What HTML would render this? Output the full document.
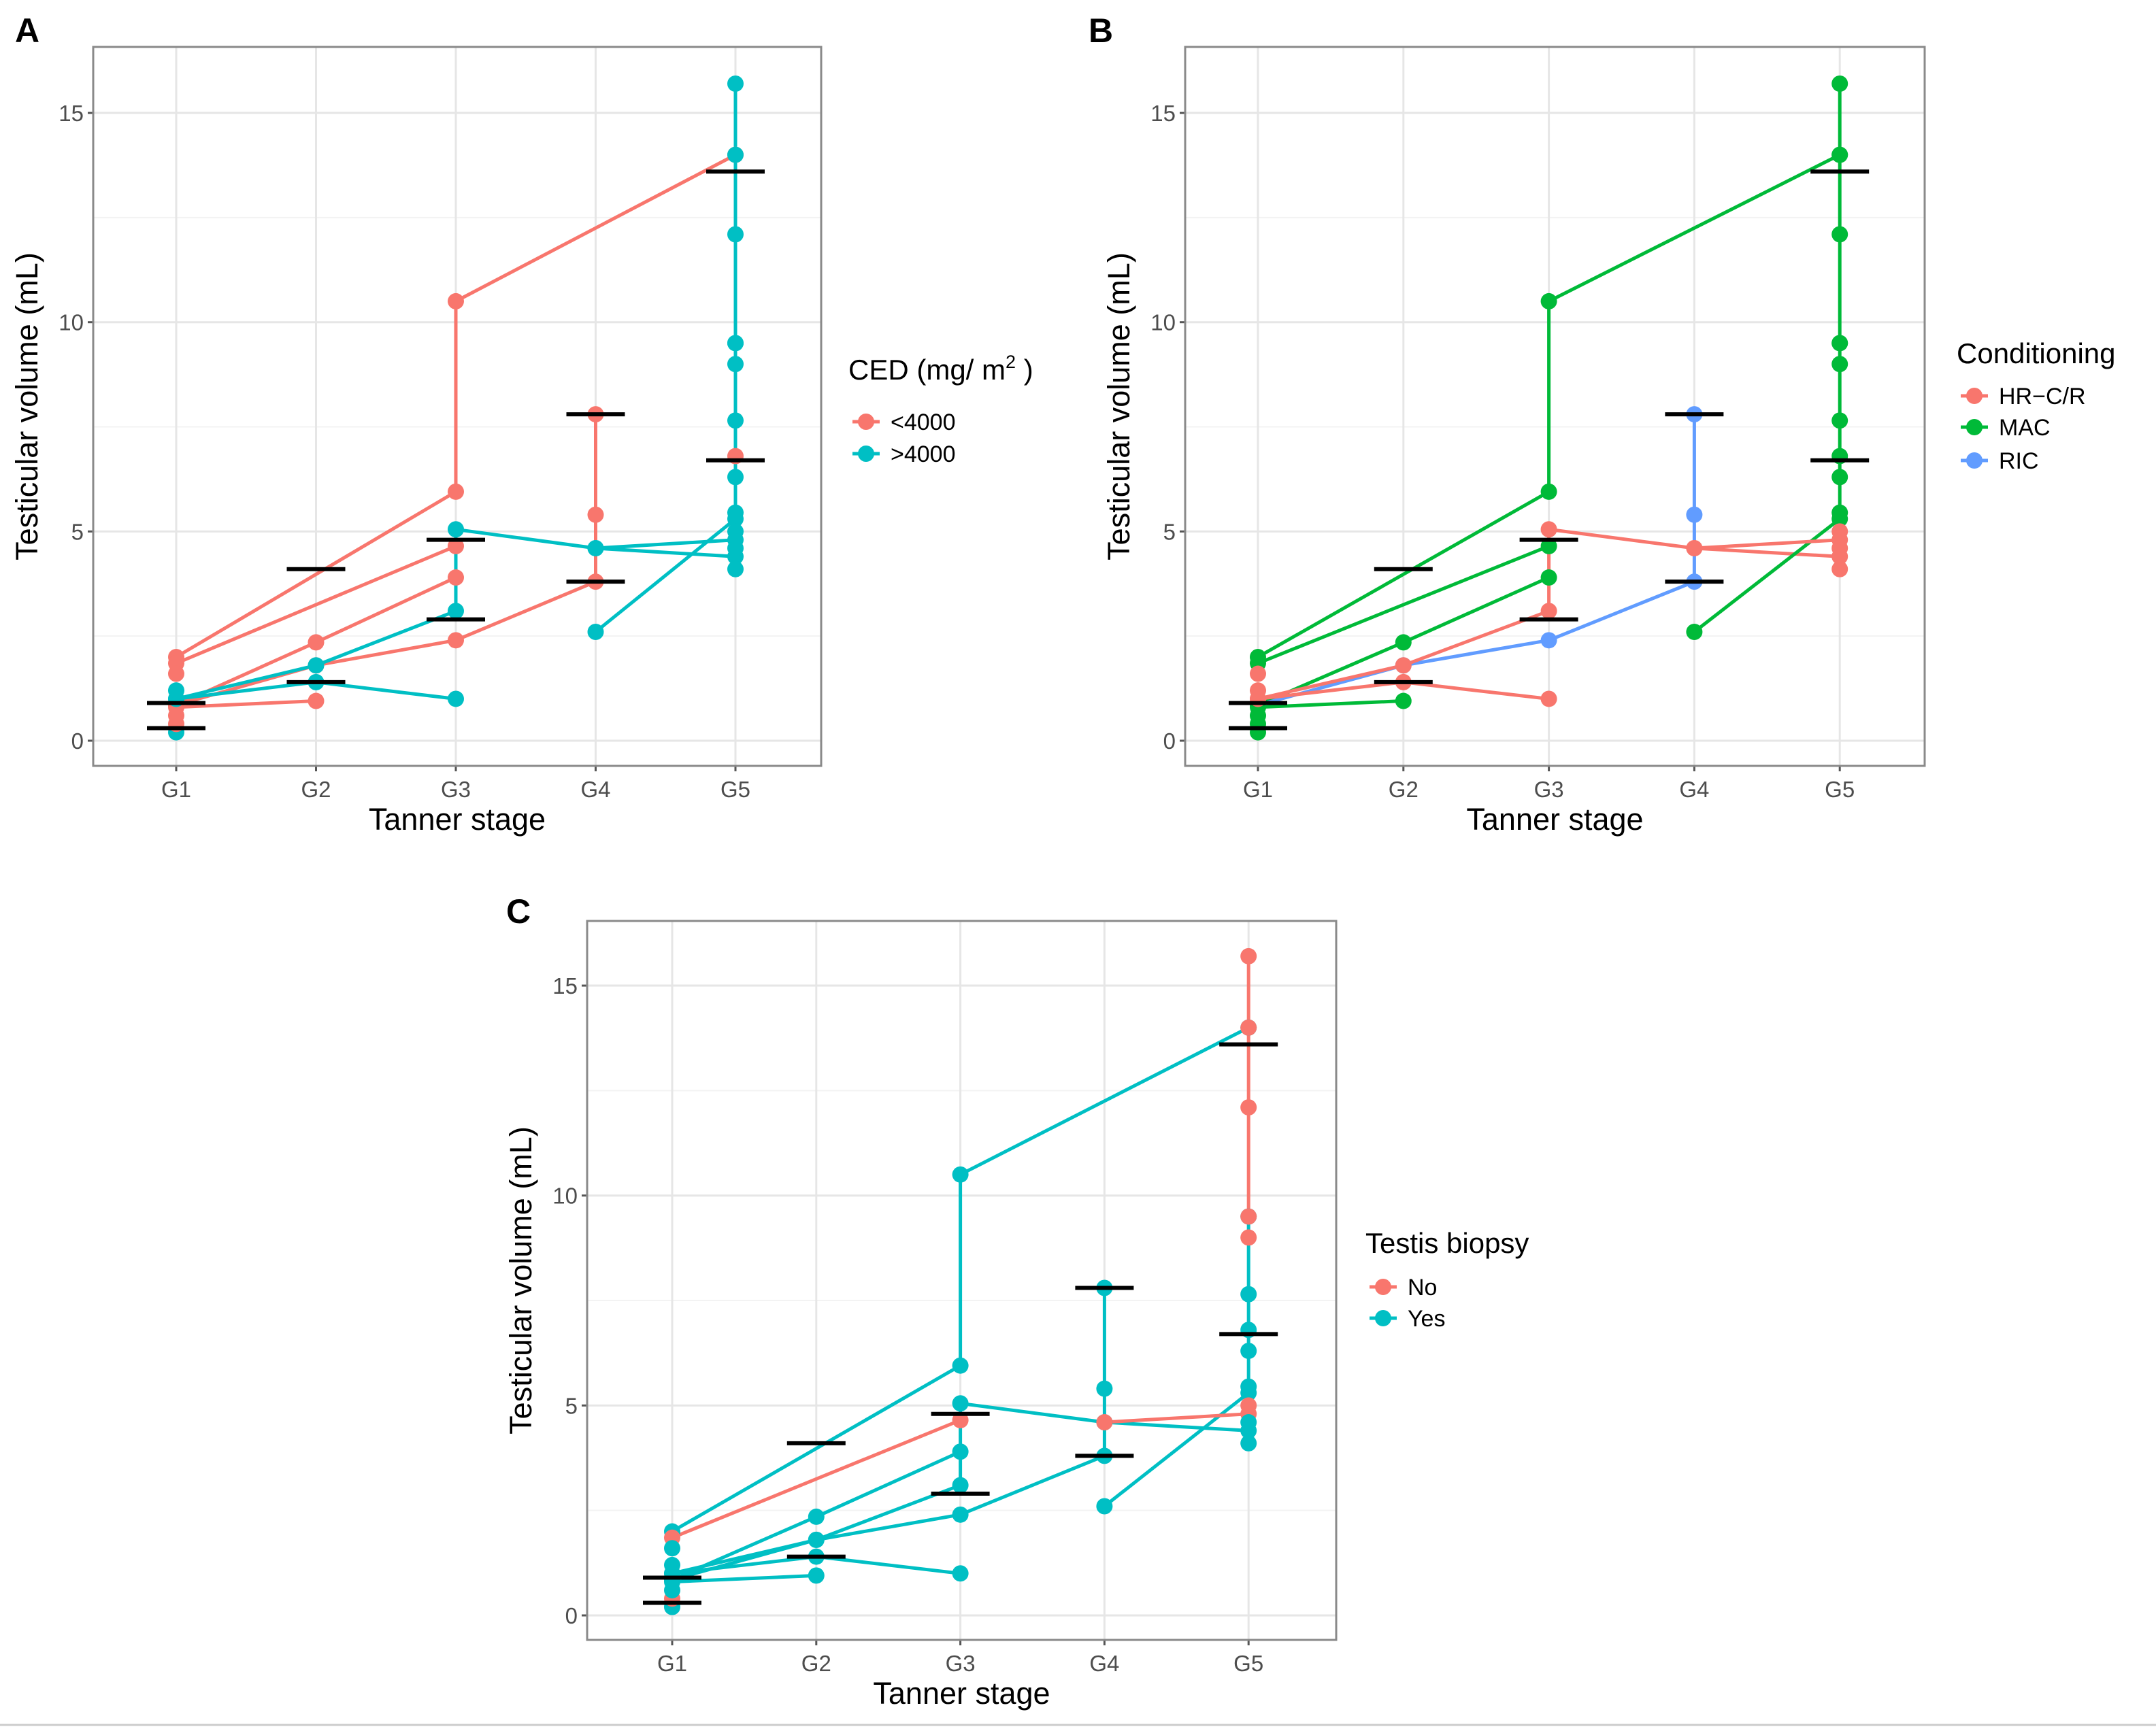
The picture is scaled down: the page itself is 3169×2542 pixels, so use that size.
<!DOCTYPE html>
<html><head><meta charset="utf-8"><style>
html,body{margin:0;padding:0;background:#fff;}
svg{display:block;font-family:"Liberation Sans",sans-serif;}
</style></head><body>
<svg id="fig" width="3169" height="2542" viewBox="0 0 3169 2542" xmlns="http://www.w3.org/2000/svg">
<rect x="0" y="0" width="3169" height="2542" fill="#fff"/>
<line x1="0" y1="2536" x2="3169" y2="2536" stroke="#ccc" stroke-width="3"/>
</svg>
<script>
const stages = ["G1","G2","G3","G4","G5"];
const yTicks = [0,5,10,15];
// patients: points as [stageIndex, value]
const p1 = [[0,2.0],[2,5.95],[2,10.5],[4,14.0]];
const p2 = [[0,1.85],[2,4.65]];
const p3 = [[0,0.85],[1,2.35],[2,3.9]];
const p4 = [[0,0.85],[1,1.8],[2,2.4],[3,3.8],[3,5.4],[3,7.8]];
const p5 = [[0,0.8],[1,0.95]];
const p6 = [[0,1.0],[1,1.4],[2,1.0]];
const p7 = [[0,1.0],[1,1.8],[2,3.1],[2,5.05],[3,4.6],[4,4.4]];
const p8 = [[3,2.6],[4,5.3],[4,5.45],[4,6.3],[4,7.65],[4,9.5]];
const p10 = [[4,9.5],[4,12.1],[4,14.0],[4,15.7]];
const p9 = [[3,4.6],[4,4.8]];
const patients = [p1,p2,p3,p4,p5,p6,p7,p8,p9,p10];
const extraPts = [[0,0.2],[0,0.4],[0,0.6],[0,1.2],[0,1.6],[4,4.1],[4,4.6],[4,5.0],[4,6.8],[4,9.0]];
// group index per patient per panel
const groupsA = [0,0,0,0,0,1,1,1,1,1];
const groupsB = [1,1,1,2,1,0,0,1,0,1];
const groupsC = [1,0,1,1,1,1,1,1,0,0];
const extraA = [1,0,0,1,0,1,1,1,0,1];
const extraB = [1,1,1,0,0,0,0,0,1,1];
const extraC = [1,0,1,1,1,1,1,0,1,0];
const medStage = [0,0,1,1,2,2,3,3,4,4];
const medVal = [0.9,0.3,4.1,1.4,4.8,2.9,7.8,3.8,13.6,6.7];

const svg = document.getElementById('fig');
const NS = "http://www.w3.org/2000/svg";
function mk(tag, attrs, parent){const e=document.createElementNS(NS,tag);for(const k in attrs)e.setAttribute(k,attrs[k]);(parent||svg).appendChild(e);return e;}

const panels = [
 {id:"a",label:"A",lx:22,ly:62,x0:137,x1:1207,y0:69,y1:1126,g1:259,gs:205.5,yz:1089,yu:61.53,
  groups:groupsA,extra:extraA,colors:["#F8766D","#00BFC4"],legTitle:"CED (mg/ m",legSup:true,legX:1247,legY:558,legItems:["<4000",">4000"],legEY:[620,667]},
 {id:"b",label:"B",lx:1600,ly:62,x0:1742,x1:2829,y0:69,y1:1126,g1:1849,gs:213.8,yz:1089,yu:61.53,
  groups:groupsB,extra:extraB,colors:["#F8766D","#00BA38","#619CFF"],legTitle:"Conditioning",legSup:false,legX:2876,legY:534,legItems:["HR\u2212C/R","MAC","RIC"],legEY:[582,628,677]},
 {id:"c",label:"C",lx:744,ly:1357,x0:863,x1:1964,y0:1354,y1:2411,g1:988,gs:211.8,yz:2375,yu:61.73,
  groups:groupsC,extra:extraC,colors:["#F8766D","#00BFC4"],legTitle:"Testis biopsy",legSup:false,legX:2007,legY:1842,legItems:["No","Yes"],legEY:[1892,1938]}
];

panels.forEach(P=>{
  const g = mk('g',{});
  
  
  const X = i => P.g1 + i*P.gs;
  const Y = v => P.yz - v*P.yu;
  const lab = mk('text',{x:P.lx,y:P.ly,'font-size':50,'font-weight':'bold',fill:'#000'},g);
  lab.textContent = P.label;
  
  
  for(let v=0; v<=17.5; v+=2.5){
    const yy=Y(v); if(yy<P.y0||yy>P.y1) continue;
    const isMaj = (v%5===0);
    mk('line',{x1:P.x0,x2:P.x1,y1:yy,y2:yy,stroke:isMaj?'#e6e6e6':'#f3f3f3','stroke-width':isMaj?3:2},g);
  }
  for(let i=0;i<stages.length;i++){
    mk('line',{x1:X(i),x2:X(i),y1:P.y0,y2:P.y1,stroke:'#e6e6e6','stroke-width':3},g);
    mk('line',{x1:X(i),x2:X(i),y1:P.y1,y2:P.y1+8,stroke:'#555','stroke-width':3},g);
    const t = mk('text',{x:X(i),y:P.y1+46,'font-size':33,'text-anchor':'middle',fill:'#4d4d4d'},g);
    t.textContent = stages[i];
    
    
  }
  yTicks.forEach(v=>{
    mk('line',{x1:P.x0-8,x2:P.x0,y1:Y(v),y2:Y(v),stroke:'#555','stroke-width':3},g);
    const t = mk('text',{x:P.x0-14,y:Y(v)+12,'font-size':33,'text-anchor':'end',fill:'#4d4d4d'},g);
    t.textContent = v;
    
    
  });
  const border = mk('rect',{x:P.x0,y:P.y0,width:P.x1-P.x0,height:P.y1-P.y0,fill:'none',stroke:'#8a8a8a','stroke-width':3},g);
  
  
  const xt = mk('text',{x:(P.x0+P.x1)/2,y:P.y1+94,'font-size':45,'text-anchor':'middle',fill:'#000'},g);
  xt.textContent = "Tanner stage";
  
  
  const ycx = P.x0-82, ycy=(P.y0+P.y1)/2;
  const yt = mk('text',{x:ycx,y:ycy,'font-size':45,'text-anchor':'middle',fill:'#000',transform:`rotate(-90 ${ycx} ${ycy})`},g);
  yt.textContent = "Testicular volume (mL)";
  
  
  patients.forEach((pts,pi)=>{
    const col = P.colors[P.groups[pi]];
    const d = pts.map((p,k)=>(k?'L':'M')+X(p[0]).toFixed(1)+' '+Y(p[1]).toFixed(1)).join(' ');
    const path = mk('path',{d:d,fill:'none',stroke:col,'stroke-width':5,'stroke-linejoin':'round'},g);
    
    
  });
  patients.forEach((pts,pi)=>{
    const col = P.colors[P.groups[pi]];
    pts.forEach(p=>{
      const c = mk('circle',{cx:X(p[0]),cy:Y(p[1]),r:12,fill:col},g);
      
      
    });
  });
  extraPts.forEach((p,i)=>{
    const c = mk('circle',{cx:X(p[0]),cy:Y(p[1]),r:12,fill:P.colors[P.extra[i]]},g);
    
    
  });
  medVal.forEach((v,i)=>{
    const b = mk('line',{x1:X(medStage[i])-43,x2:X(medStage[i])+43,y1:Y(v),y2:Y(v),stroke:'#000','stroke-width':6},g);
    
    
  });
  const lg = mk('g',{},g);
  
  
  const ttl = mk('text',{x:P.legX,y:P.legY,'font-size':42,fill:'#000'},lg);
  ttl.textContent = P.legTitle;
  if(P.legSup){
    const s = mk('tspan',{'font-size':27,dy:-17},ttl); s.textContent="2";
    const s2 = mk('tspan',{'font-size':42,dy:17},ttl); s2.textContent=" )";
  }
  P.legItems.forEach((name,i)=>{
    const ey = P.legEY[i];
    const it = mk('g',{},lg);
    
    
    mk('line',{x1:P.legX+6,x2:P.legX+46,y1:ey,y2:ey,stroke:P.colors[i],'stroke-width':5},it);
    mk('circle',{cx:P.legX+26,cy:ey,r:12,fill:P.colors[i]},it);
    const t = mk('text',{x:P.legX+62,y:ey+12,'font-size':34,fill:'#000'},it);
    t.textContent = name;
  });
});
</script>
</body></html>
